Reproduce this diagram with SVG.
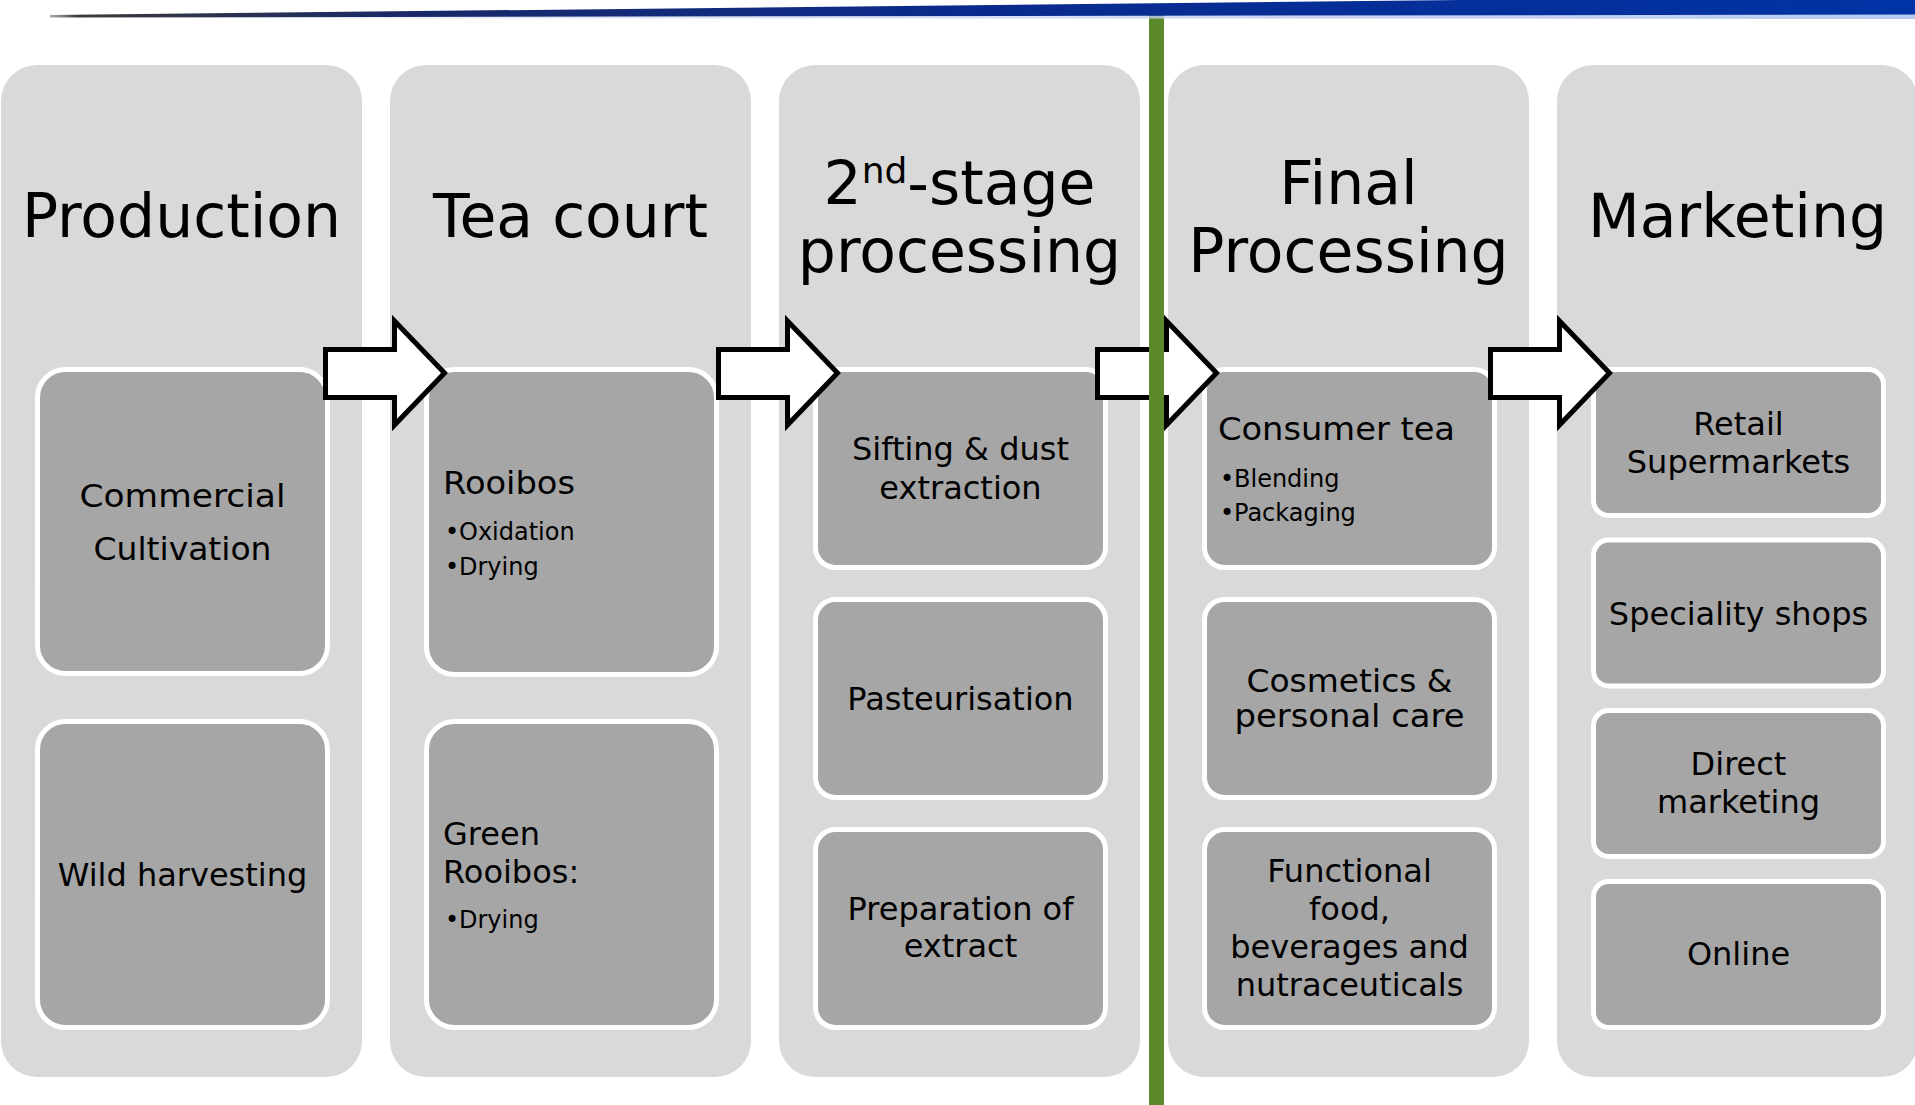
<svg xmlns="http://www.w3.org/2000/svg" width="1915" height="1105" viewBox="0 0 1915 1105">
  <defs>
    <linearGradient id="topbar" x1="0" y1="0" x2="1915" y2="0" gradientUnits="userSpaceOnUse">
      <stop offset="0" stop-color="#ffffff" stop-opacity="0"/>
      <stop offset="0.04" stop-color="#3a3a3a"/>
      <stop offset="0.2" stop-color="#1b2a66"/>
      <stop offset="0.5" stop-color="#0a2a8c"/>
      <stop offset="1" stop-color="#0033a6"/>
    </linearGradient>
    <linearGradient id="glow" x1="0" y1="0" x2="1915" y2="0" gradientUnits="userSpaceOnUse">
      <stop offset="0" stop-color="#c8d4f2" stop-opacity="0"/>
      <stop offset="0.3" stop-color="#c8d4f2" stop-opacity="0.6"/>
      <stop offset="1" stop-color="#b8c8f0"/>
    </linearGradient>
    <style>
      .col { fill: #d9d9d9; }
      .box { fill: #a6a6a6; stroke: #ffffff; stroke-width: 5; }
      .arrow { fill: #ffffff; stroke: #000000; stroke-width: 5; stroke-linejoin: miter; }
      .title { font-family: "DejaVu Sans", sans-serif; font-size: 60px; fill: #000000; text-anchor: middle; }
      .lbl { font-family: "DejaVu Sans", sans-serif; font-size: 32px; fill: #000000; text-anchor: middle; }
      .lbll { font-family: "DejaVu Sans", sans-serif; font-size: 32px; fill: #000000; }
      .bul { font-family: "DejaVu Sans", sans-serif; font-size: 24px; fill: #000000; }
    </style>
  </defs>

  <rect width="1915" height="1105" fill="#ffffff"/>

  <!-- Columns -->
  <g id="col-production">
    <rect class="col" x="1" y="65" width="361" height="1012" rx="36"/>
    <text class="title" x="181.5" y="237">Production</text>
  </g>
  <g id="col-teacourt">
    <rect class="col" x="390" y="65" width="361" height="1012" rx="36"/>
    <text class="title" x="570.5" y="237">Tea court</text>
  </g>
  <g id="col-second">
    <rect class="col" x="779" y="65" width="361" height="1012" rx="36"/>
    <text class="title" x="959.5" y="204">2<tspan font-size="36" dy="-21">nd</tspan><tspan dy="21">-stage</tspan></text>
    <text class="title" x="959.5" y="272">processing</text>
  </g>
  <g id="col-final">
    <rect class="col" x="1168" y="65" width="361" height="1012" rx="36"/>
    <text class="title" x="1348.5" y="204">Final</text>
    <text class="title" x="1348.5" y="272">Processing</text>
  </g>
  <g id="col-marketing">
    <rect class="col" x="1557" y="65" width="361" height="1012" rx="36"/>
    <text class="title" x="1737.5" y="237">Marketing</text>
  </g>

  <!-- Production boxes -->
  <g id="box-commercial">
    <rect class="box" x="37.5" y="369.5" width="290" height="304" rx="28"/>
    <text class="lbl" x="182.5" y="507" textLength="206" lengthAdjust="spacingAndGlyphs">Commercial</text>
    <text class="lbl" x="182.5" y="560" textLength="178" lengthAdjust="spacingAndGlyphs">Cultivation</text>
  </g>
  <g id="box-wild">
    <rect class="box" x="37.5" y="721.5" width="290" height="306" rx="28"/>
    <text class="lbl" x="182.5" y="886">Wild harvesting</text>
  </g>

  <!-- Tea court boxes -->
  <g id="box-rooibos">
    <rect class="box" x="426.5" y="369.5" width="290" height="305" rx="28"/>
    <text class="lbll" x="443" y="494" textLength="132" lengthAdjust="spacingAndGlyphs">Rooibos</text>
    <text class="bul" x="445" y="540">•</text>
    <text class="bul" x="459" y="540">Oxidation</text>
    <text class="bul" x="445" y="575">•</text>
    <text class="bul" x="459" y="575">Drying</text>
  </g>
  <g id="box-green">
    <rect class="box" x="426.5" y="721.5" width="290" height="306" rx="28"/>
    <text class="lbll" x="443" y="845">Green</text>
    <text class="lbll" x="443" y="883">Rooibos:</text>
    <text class="bul" x="445" y="928">•</text>
    <text class="bul" x="459" y="928">Drying</text>
  </g>

  <!-- 2nd-stage boxes -->
  <g id="box-sifting">
    <rect class="box" x="815.5" y="369.5" width="290" height="198" rx="20"/>
    <text class="lbl" x="960.5" y="460">Sifting &amp; dust</text>
    <text class="lbl" x="960.5" y="499">extraction</text>
  </g>
  <g id="box-pasteurisation">
    <rect class="box" x="815.5" y="599.5" width="290" height="198" rx="20"/>
    <text class="lbl" x="960.5" y="710">Pasteurisation</text>
  </g>
  <g id="box-extract">
    <rect class="box" x="815.5" y="829.5" width="290" height="198" rx="20"/>
    <text class="lbl" x="960.5" y="920">Preparation of</text>
    <text class="lbl" x="960.5" y="957">extract</text>
  </g>

  <!-- Final processing boxes -->
  <g id="box-consumer">
    <rect class="box" x="1204.5" y="369.5" width="290" height="198" rx="20"/>
    <text class="lbll" x="1218" y="440" textLength="237" lengthAdjust="spacingAndGlyphs">Consumer tea</text>
    <text class="bul" x="1220" y="487">•</text>
    <text class="bul" x="1234" y="487">Blending</text>
    <text class="bul" x="1220" y="521">•</text>
    <text class="bul" x="1234" y="521">Packaging</text>
  </g>
  <g id="box-cosmetics">
    <rect class="box" x="1204.5" y="599.5" width="290" height="198" rx="20"/>
    <text class="lbl" x="1349.5" y="692" textLength="206" lengthAdjust="spacingAndGlyphs">Cosmetics &amp;</text>
    <text class="lbl" x="1349.5" y="727" textLength="230" lengthAdjust="spacingAndGlyphs">personal care</text>
  </g>
  <g id="box-functional">
    <rect class="box" x="1204.5" y="829.5" width="290" height="198" rx="20"/>
    <text class="lbl" x="1349.5" y="882">Functional</text>
    <text class="lbl" x="1349.5" y="920">food,</text>
    <text class="lbl" x="1349.5" y="958">beverages and</text>
    <text class="lbl" x="1349.5" y="996">nutraceuticals</text>
  </g>

  <!-- Marketing boxes -->
  <g id="box-retail">
    <rect class="box" x="1593.5" y="369.5" width="290" height="146" rx="15"/>
    <text class="lbl" x="1738.5" y="435">Retail</text>
    <text class="lbl" x="1738.5" y="473">Supermarkets</text>
  </g>
  <g id="box-speciality">
    <rect class="box" x="1593.5" y="540" width="290" height="146" rx="15"/>
    <text class="lbl" x="1738.5" y="625">Speciality shops</text>
  </g>
  <g id="box-direct">
    <rect class="box" x="1593.5" y="710.5" width="290" height="146" rx="15"/>
    <text class="lbl" x="1738.5" y="775">Direct</text>
    <text class="lbl" x="1738.5" y="813">marketing</text>
  </g>
  <g id="box-online">
    <rect class="box" x="1593.5" y="881.5" width="290" height="146" rx="15"/>
    <text class="lbl" x="1738.5" y="965">Online</text>
  </g>

  <!-- Connectors: block arrows -->
  <g id="connectors">
    <path class="arrow" d="M325.5,349.5 H394.5 V321 L444.5,373 L394.5,425 V397.5 H325.5 Z"/>
    <path class="arrow" d="M718.5,349.5 H787.5 V321 L837.5,373 L787.5,425 V397.5 H718.5 Z"/>
    <path class="arrow" d="M1097.5,349.5 H1166.5 V321 L1216.5,373 L1166.5,425 V397.5 H1097.5 Z"/>
    <path class="arrow" d="M1490.5,349.5 H1559.5 V321 L1609.5,373 L1559.5,425 V397.5 H1490.5 Z"/>
  </g>

  <!-- Green divider -->
  <rect x="1149" y="5" width="15" height="1100" fill="#5c8a2b"/>

  <!-- Top swoosh -->
  <polygon points="100,17.5 1915,14 1915,19 100,18.2" fill="url(#glow)"/>
  <polygon points="50,15 1460,0 1915,0 1915,14.5 50,17.5" fill="url(#topbar)"/>
</svg>
